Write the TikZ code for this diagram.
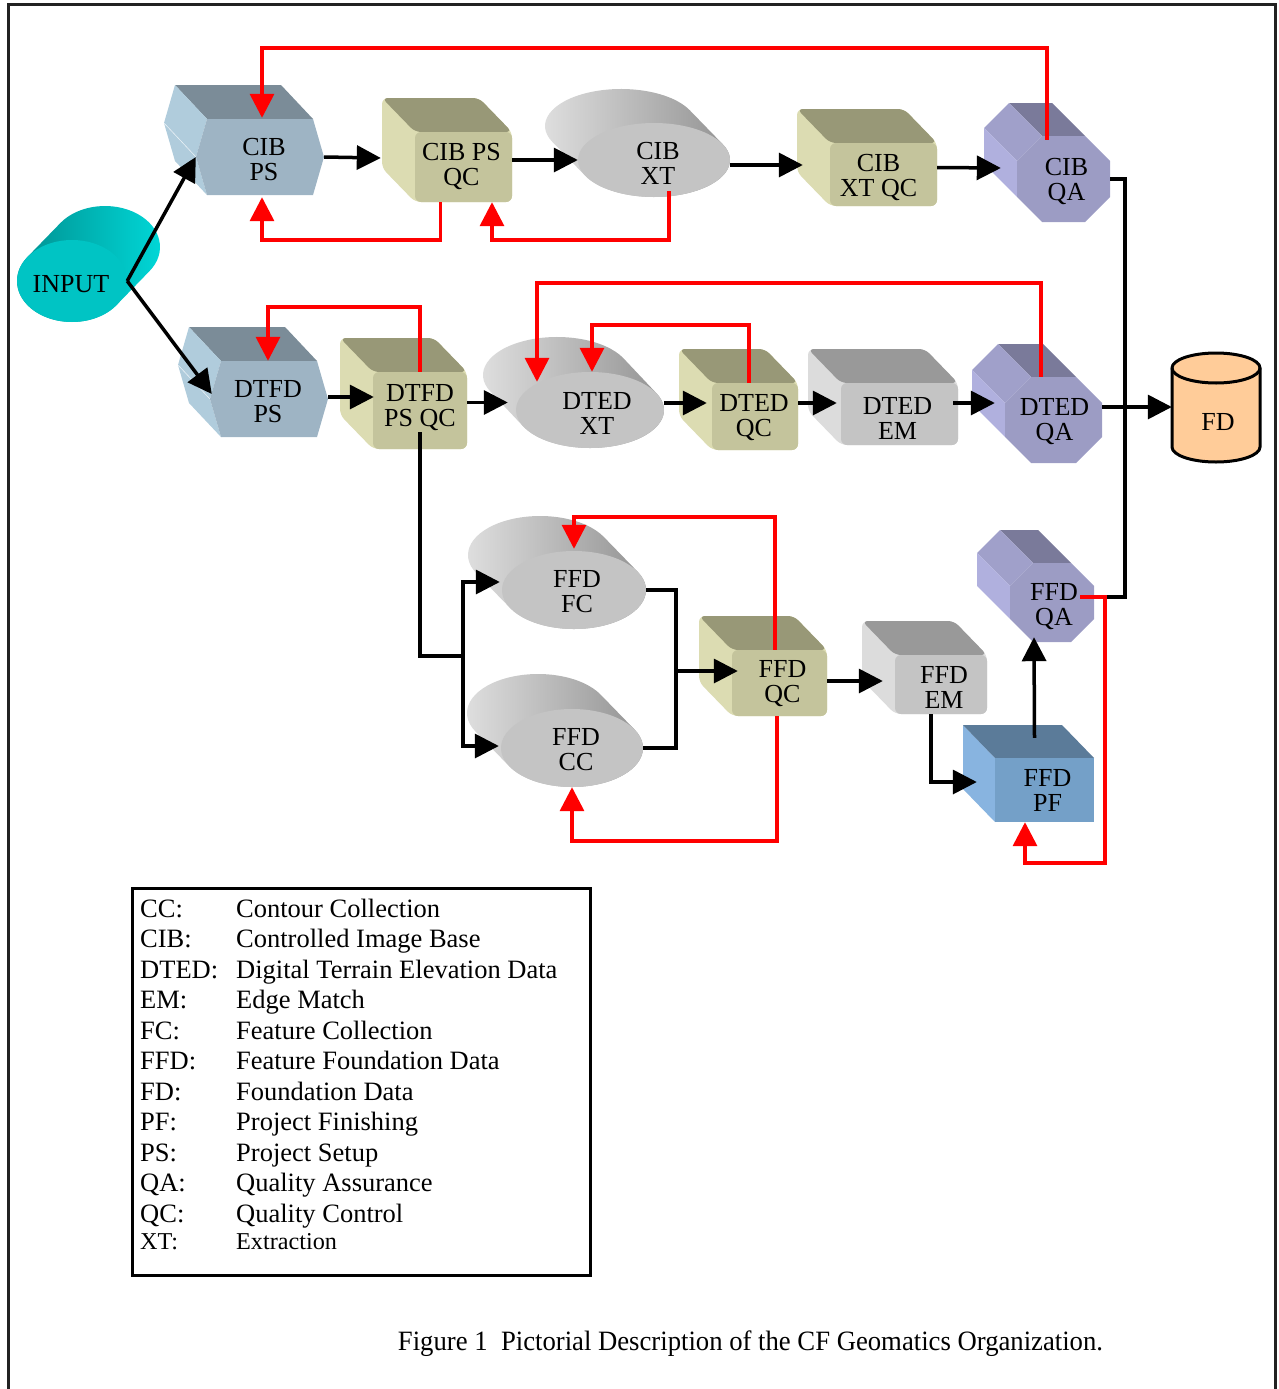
\documentclass[tikz,border=0pt]{standalone}
\usepackage{fontspec}
\setmainfont{Liberation Serif}
\usepackage{graphicx}
\usetikzlibrary{arrows.meta,calc}
\definecolor{hextop}{HTML}{7B8C98}
\definecolor{hexleft}{HTML}{B0CCDC}
\definecolor{hexfront}{HTML}{9EB4C4}
\definecolor{khakitop}{HTML}{989877}
\definecolor{khakileft}{HTML}{DCDCB2}
\definecolor{khakifront}{HTML}{C4C49C}
\definecolor{graytop}{HTML}{999999}
\definecolor{grayleft}{HTML}{DCDCDC}
\definecolor{grayfront}{HTML}{C4C4C4}
\definecolor{pftop}{HTML}{5B7B99}
\definecolor{pfleft}{HTML}{88B4E0}
\definecolor{pffront}{HTML}{74A0C8}
\definecolor{octtop}{HTML}{7A7A9A}
\definecolor{octtl}{HTML}{A0A0CA}
\definecolor{octleft}{HTML}{B0B0DE}
\definecolor{octfront}{HTML}{9C9CC4}
\definecolor{cylgbl}{HTML}{E2E2E2}
\definecolor{cylgbr}{HTML}{8E8E8E}
\definecolor{cylgf}{HTML}{C4C4C4}
\definecolor{cylcbl}{HTML}{008C8C}
\definecolor{cylcbr}{HTML}{00DADA}
\definecolor{cylcf}{HTML}{00C4C4}
\definecolor{fdfill}{HTML}{FFCC99}
\definecolor{framec}{HTML}{222222}

\def\tox{0}\def\toy{3}
\newcommand\txtoff[2]{\def\tox{#1}\def\toy{#2}}
% hexagonal prism: name, x1, y1, x2, y2, text
\newcommand\hexprism[6]{%
  \pgfmathsetmacro\hcy{(#3+#5)/2}%
  \fill[hextop] (#2+11,#3) -- (#4-11,#3) -- (#4-11-32,#3-34) -- (#2+11-32,#3-34) -- cycle;
  \fill[hexleft] (#2,\hcy) -- (#2+11,#3) -- (#2+11-32,#3-34) -- (#2-32,\hcy-34) -- cycle;
  \fill[hexleft] (#2,\hcy) -- (#2+11,#5) -- (#2+11-32,#5-34) -- (#2-32,\hcy-34) -- cycle;
  \draw[white!70!hexleft, line width=0.6pt] (#2,\hcy) -- (#2-32,\hcy-34);
  \fill[hexfront] (#2+11,#3) -- (#4-11,#3) -- (#4,\hcy) -- (#4-11,#5) -- (#2+11,#5) -- (#2,\hcy) -- cycle;
  \node[lbl, minimum width={(#4-#2)*1pt}, minimum height={(#5-#3)*1pt}] (#1) at ({(#2+#4)/2},\hcy) {};
  \node[lbl] (#1t) at ($(#1)+(\tox,\toy)$) {#6};
}
% rounded cube: name, x1, y1, x2, y2, text, colour family
\newcommand\rcube[7]{%
  \fill[#7left, rounded corners=6pt] (#2-33,#3-34) -- (#4-33,#3-34) -- (#4,#3) -- (#4,#5) -- (#2,#5) -- (#2-33,#5-34) -- cycle;
  \fill[#7top, rounded corners=6pt] (#2,#3) -- (#2-33,#3-34) -- (#4-33,#3-34) -- (#4,#3) -- cycle;
  \fill[#7front, rounded corners=6pt] (#2,#3) rectangle (#4,#5);
  \node[lbl, minimum width={(#4-#2)*1pt}, minimum height={(#5-#3)*1pt}] (#1) at ({(#2+#4)/2},{(#3+#5)/2}) {};
  \node[lbl] (#1t) at ($(#1)+(\tox,\toy)$) {#6};
}
% sharp box: name, x1, y1, x2, y2, text, colour family
\newcommand\plainbox[7]{%
  \fill[#7left] (#2-32,#3-33) -- (#2,#3) -- (#2,#5) -- (#2-32,#5-33) -- cycle;
  \fill[#7top] (#2,#3) -- (#2-32,#3-33) -- (#4-32,#3-33) -- (#4,#3) -- cycle;
  \fill[#7front] (#2,#3) rectangle (#4,#5);
  \node[lbl, minimum width={(#4-#2)*1pt}, minimum height={(#5-#3)*1pt}] (#1) at ({(#2+#4)/2},{(#3+#5)/2}) {};
  \node[lbl] (#1t) at ($(#1)+(\tox,\toy)$) {#6};
}
% octagonal prism: name, x1, y1, x2, y2, text, corner cut
\newcommand\octprism[7]{%
  \fill[octtop] (#2+#7,#3) -- (#4-#7,#3) -- (#4-#7-33,#3-33) -- (#2+#7-33,#3-33) -- cycle;
  \fill[octtl] (#2,#3+#7) -- (#2+#7,#3) -- (#2+#7-33,#3-33) -- (#2-33,#3+#7-33) -- cycle;
  \fill[octleft] (#2,#5-#7) -- (#2,#3+#7) -- (#2-33,#3+#7-33) -- (#2-33,#5-#7-33) -- cycle;
  \fill[octfront] (#2+#7,#3) -- (#4-#7,#3) -- (#4,#3+#7) -- (#4,#5-#7) -- (#4-#7,#5) -- (#2+#7,#5) -- (#2,#5-#7) -- (#2,#3+#7) -- cycle;
  \node[lbl, minimum width={(#4-#2)*1pt}, minimum height={(#5-#3)*1pt}] (#1) at ({(#2+#4)/2},{(#3+#5)/2}) {};
  \node[lbl] (#1t) at ($(#1)+(\tox,\toy)$) {#6};
}
% tilted cylinder: name, cx, cy, rx, ry, dx, dy, text, colour family
\newcommand\tcyl[9]{%
  \pgfmathsetmacro\tA{atan(-(#5*(#6))/(#4*(#7)))}%
  \pgfmathsetmacro\tB{\tA-180}%
  \pgfmathsetmacro\tC{\tA-360}%
  \shade[left color=#9bl, right color=#9br] ($(#2,#3)+(#6,#7)+(\tA:#4 and #5)$) arc[start angle=\tA, end angle=\tB, x radius=#4, y radius=#5] -- ($(#2,#3)+(\tB:#4 and #5)$) arc[start angle=\tB, end angle=\tC, x radius=#4, y radius=#5] -- cycle;
  \fill[#9f] (#2,#3) ellipse[x radius=#4, y radius=#5];
  \node[lbl, minimum width={2*#4*1pt}, minimum height={2*#5*1pt}] (#1) at (#2,#3) {};
  \node[lbl] (#1t) at ($(#1)+(\tox,\toy)$) {#8};
}

\begin{document}
\begin{tikzpicture}[x=1pt,y=-1pt,
  lbl/.style={inner sep=0pt, align=center, font=\fontsize{26}{25}\selectfont},
  conn/.style={line width=3.5pt, black, -{Triangle[length=24pt,width=24pt]}},
  line/.style={line width=3.5pt, black},
  fb/.style={line width=3.5pt, red, -{Triangle[length=24pt,width=24pt]}},
  legtxt/.style={inner sep=0pt, anchor=base west, font=\fontsize{26.5}{30}\selectfont}]
\useasboundingbox (0,0) rectangle (1278,1389);
\draw[framec, line width=3pt] (8,1395) -- (8,5) -- (1275,5) -- (1275,1395);

% ---- shapes ----
\txtoff{-1}{3}
\tcyl{input}{72}{281}{55}{41}{33}{-34}{INPUT}{cylc}
\txtoff{4}{3}
\hexprism{cibps}{196}{119}{324}{195}{CIB\\PS}
\txtoff{-2}{-1}
\rcube{cibpsqc}{415}{132}{512}{202}{CIB PS\\QC}{khaki}
\txtoff{4}{3}
\tcyl{cibxt}{654}{160}{76}{37}{-33}{-34}{CIB\\XT}{cylg}
\txtoff{-5}{3}
\rcube{cibxtqc}{830}{143}{937}{206}{CIB\\XT QC}{khaki}
\txtoff{3}{2}
\octprism{cibqa}{1017}{136}{1110}{222}{CIB\\QA}{25}

\txtoff{-1}{3}
\hexprism{dtfdps}{210}{361}{328}{437}{DTFD\\PS}
\txtoff{0}{-3}
\rcube{dtfdpsqc}{373}{372}{467}{449}{DTFD\\PS QC}{khaki}
\txtoff{7}{3}
\tcyl{dtedxt}{590}{410}{74}{38}{-33}{-35}{DTED\\XT}{cylg}
\txtoff{-1}{1}
\rcube{dtedqc}{712}{383}{798}{450}{DTED\\QC}{khaki}
\txtoff{-2}{4}
\rcube{dtedem}{841}{383}{958}{445}{DTED\\EM}{gray}
\txtoff{1}{2}
\octprism{dtedqa}{1005}{377}{1102}{463}{DTED\\QA}{26}

\txtoff{3}{2}
\tcyl{ffdfc}{574}{590}{72}{39}{-34}{-35}{FFD\\FC}{cylg}
\txtoff{4}{2}
\tcyl{ffdcc}{572}{748}{71}{39}{-34}{-35}{FFD\\CC}{cylg}
\txtoff{3}{1}
\rcube{ffdqc}{732}{650}{827}{716}{FFD\\QC}{khaki}
\txtoff{3}{3}
\rcube{ffdem}{895}{655}{987}{714}{FFD\\EM}{gray}
\txtoff{3}{0}
\plainbox{ffdpf}{995}{758}{1094}{822}{FFD\\PF}{pf}
\txtoff{2}{4}
\octprism{ffdqa}{1010}{563}{1094}{642}{FFD\\QA}{23}

% FD cylinder
\filldraw[fill=fdfill, draw=black, line width=3pt] (1172,368) -- (1172,447) arc[start angle=180, end angle=0, x radius=44, y radius=15] -- (1260,368) arc[start angle=0, end angle=-180, x radius=44, y radius=15] -- cycle;
\draw[black, line width=3pt] (1172,368) arc[start angle=180, end angle=0, x radius=44, y radius=15];
\node[inner sep=0pt, minimum width=88pt, minimum height=110pt] (fd) at (1216,407) {};
\node[lbl] (fdlabel) at (1218,422) {FD};

% ---- black connectors ----
\coordinate (jn) at (1125,407);
\coordinate (split) at (463,656);
\coordinate (merge) at (676,671);
\draw[conn] (input.east) -- (cibps.west);
\draw[conn] (input.east) -- ($(dtfdps.west)+(2,-5)$);
\draw[conn] (cibps.east) -- ($(cibpsqc.west)+(-34,-9)$);
\draw[conn] ($(cibpsqc.east)+(0,-7)$) -- (cibxt.west);
\draw[conn] ($(cibxt.east)+(0,5)$) -- ($(cibxtqc.west)+(-27,-9.5)$);
\draw[conn] ($(cibxtqc.east)+(0,-7)$) -- ($(cibqa.west)+(-16,-11)$);
\draw[line] (cibqa.east) -| (jn);
\draw[line] ($(ffdqa.east)+(0,-5.5)$) -| (jn);
\draw[conn] ($(dtedqa.east)+(0,-13)$) -- (fd.west);
\draw[conn] ($(dtfdps.east)+(0,-2)$) -- ($(dtfdpsqc.west)+(1,-13.5)$);
\draw[conn] ($(dtfdpsqc.east)+(0,-8)$) -- ($(dtedxt.west)+(-8,-7.5)$);
\draw[conn] ($(dtedxt.east)+(0,-7)$) -- ($(dtedqc.west)+(-5,-13.5)$);
\draw[conn] ($(dtedqc.east)+(0,-13.5)$) -- ($(dtedem.west)+(-4,-11)$);
\draw[conn] ($(dtedem.east)+(-5,-11)$) -- ($(dtedqa.west)+(-10,-17)$);
\draw[line] ($(dtfdpsqc.south)+(0,-17)$) |- (split);
\draw[conn] (split) |- ($(ffdfc.west)+(-2,-8)$);
\draw[conn] (split) |- ($(ffdcc.west)+(-2,-2)$);
\draw[line] (ffdfc.east) -| (merge);
\draw[line] (ffdcc.east) -| (merge);
\draw[conn] (merge) -- ($(ffdqc.west)+(6,-12)$);
\draw[conn] ($(ffdqc.east)+(0,-2)$) -- ($(ffdem.west)+(-12,-3.5)$);
\draw[conn] ($(ffdem.south)+(-10,0)$) |- ($(ffdpf.west)+(-18,-8)$);
\draw[conn] ($(ffdpf.north)+(-10,-20)$) -- ($(ffdqa.south)+(-18,-5)$);

% ---- red feedback connectors ----
\draw[fb] ($(cibqa.north)+(-16.5,4)$) -- ++(0,-92) -| ($(cibps.north)+(2,-1)$);
\draw[fb] ($(cibpsqc.south)+(-23,0)$) -- ++(0,38) -| ($(cibps.south)+(2,2)$);
\draw[fb] ($(cibxt.south)+(15,-6)$) -- ++(0,49) -| ($(cibpsqc.south)+(28.5,0)$);
\draw[fb] ($(dtedqa.north)+(-12.5,0)$) -- ++(0,-94) -| ($(dtedxt.north)+(-53,10)$);
\draw[fb] ($(dtedqc.north)+(-6,0)$) -- ++(0,-58) -| ($(dtedxt.north)+(2,0)$);
\draw[fb] (dtfdpsqc.north) -- ++(0,-65) -| ($(dtfdps.north)+(-1,0)$);
\draw[fb] ($(ffdqc.north)+(-4.5,0)$) -- ++(0,-133) -| ($(ffdfc.north)+(0,-2)$);
\draw[fb] ($(ffdqc.south)+(-2.5,0)$) -- ++(0,125) -| (ffdcc.south);
\draw[fb] ($(ffdqa.east)+(-14,-5.5)$) -- ++(25,0) -- ++(0,266) -| ($(ffdpf.south)+(-19.5,0)$);

% ---- legend ----
\node[draw=black, line width=2.5pt, inner sep=0pt, minimum width=458pt, minimum height=387pt, anchor=north west] (legend) at (131,887) {};
\foreach \k/\v [count=\i from 0] in {CC:/Contour Collection, CIB:/Controlled Image Base, DTED:/Digital Terrain Elevation Data, EM:/Edge Match, FC:/Feature Collection, FFD:/Feature Foundation Data, FD:/Foundation Data, PF:/Project Finishing, PS:/Project Setup, QA:/Quality Assurance, QC:/Quality Control}{
  \node[legtxt] (lk\i) at (140,{917+30.5*\i}) {\k};
  \node[legtxt] (lv\i) at (236,{917+30.5*\i}) {\v};
}
\node[legtxt, font=\fontsize{24.2}{28}\selectfont] (lk11) at (140,1249) {XT:};
\node[legtxt, font=\fontsize{24.2}{28}\selectfont] (lv11) at (236,1249) {Extraction};

% ---- caption ----
\node[inner sep=0pt, anchor=base] (caption) at (750.5,1350) {\resizebox{705pt}{\height}{\fontsize{28}{30}\selectfont Figure 1\ \ Pictorial Description of the CF Geomatics Organization.}};
\end{tikzpicture}
\end{document}
